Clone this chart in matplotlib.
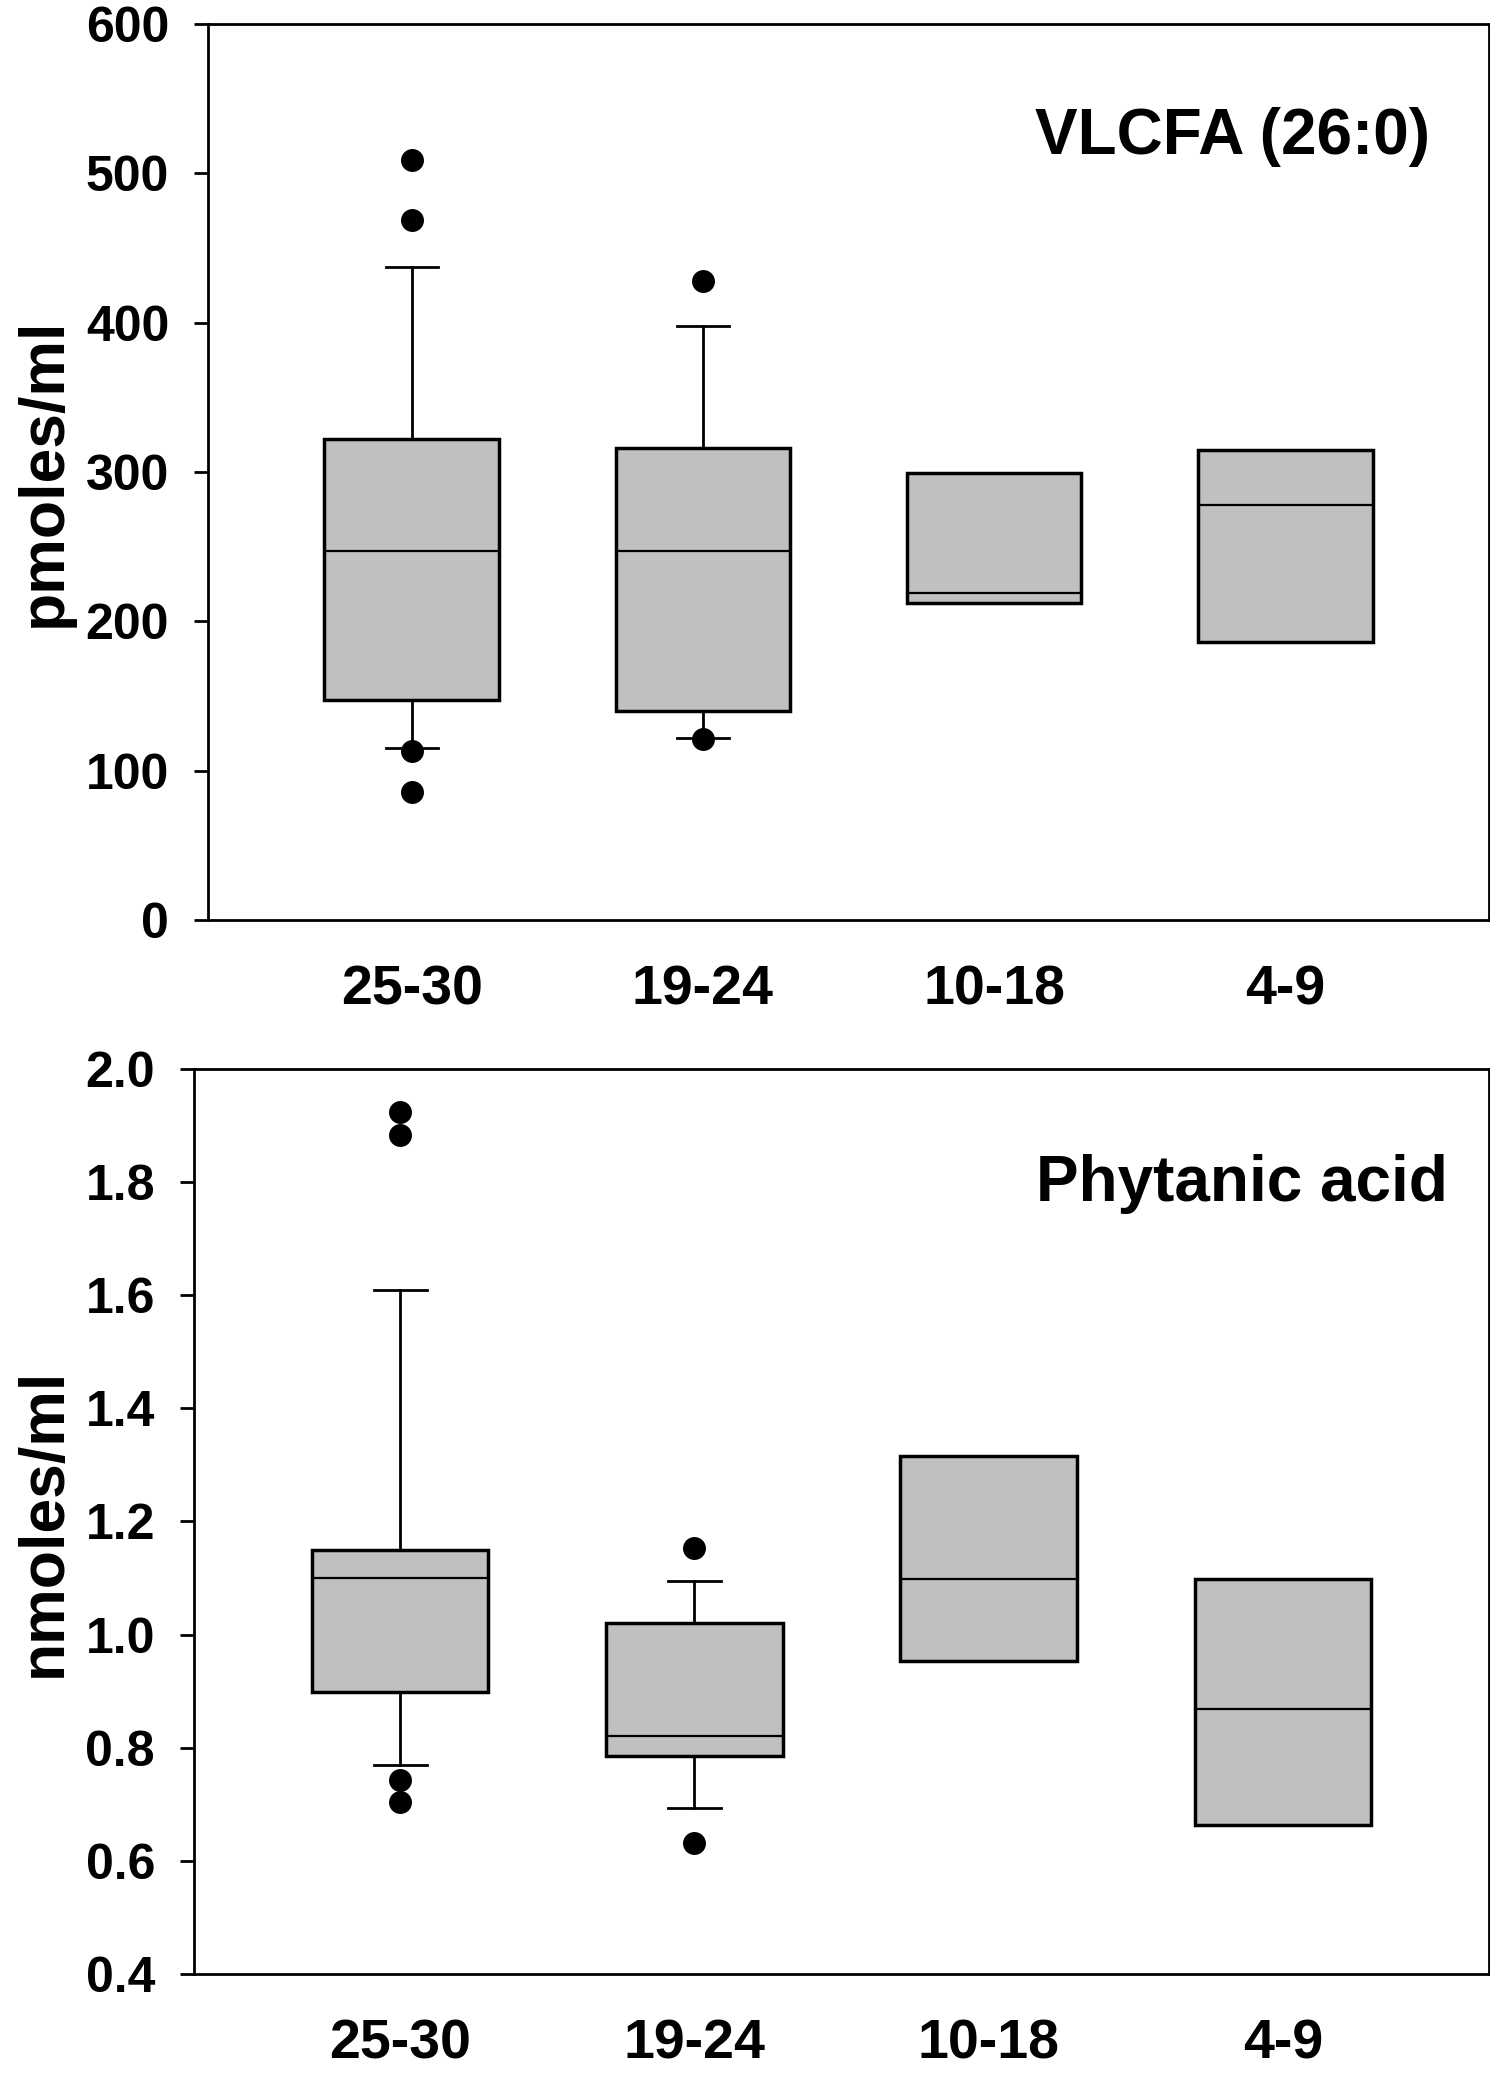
import matplotlib
matplotlib.use("Agg")
import matplotlib.pyplot as plt
from matplotlib.ticker import FormatStrFormatter

plt.rcParams['font.family'] = ['Liberation Sans', 'DejaVu Sans']
plt.rcParams['font.weight'] = 'bold'

groups = ["25-30", "19-24", "10-18", "4-9"]

# VLCFA (26:0), pmoles/ml
vl_q1 = [147, 140, 212, 186]
vl_med = [247, 247, 219, 278]
vl_q3 = [322, 316, 299, 315]
vl_lo = [115, 122, None, None]
vl_hi = [437, 398, None, None]
vl_out = [[509, 469, 113, 86], [428, 121], [], []]

# Phytanic acid, nmoles/ml
ph_q1 = [0.899, 0.785, 0.953, 0.663]
ph_med = [1.100, 0.820, 1.099, 0.869]
ph_q3 = [1.150, 1.020, 1.316, 1.099]
ph_lo = [0.769, 0.694, None, None]
ph_hi = [1.610, 1.094, None, None]
ph_out = [[1.923, 1.884, 0.743, 0.704], [1.153, 0.632], [], []]


def draw_boxes(ax, q1, med, q3, lo, hi, out):
    stats = []
    for i in range(len(groups)):
        stats.append(dict(q1=q1[i], med=med[i], q3=q3[i],
                          whislo=lo[i] if lo[i] is not None else q1[i],
                          whishi=hi[i] if hi[i] is not None else q3[i],
                          fliers=out[i], label=groups[i]))
    res = ax.bxp(stats, positions=[1, 2, 3, 4], widths=0.6, capwidths=0.18,
                 patch_artist=True,
                 boxprops=dict(facecolor='#c0c0c0', edgecolor='black', linewidth=2.5),
                 medianprops=dict(color='black', linewidth=1.6),
                 whiskerprops=dict(color='black', linewidth=2),
                 capprops=dict(color='black', linewidth=2),
                 flierprops=dict(marker='o', markerfacecolor='black',
                                 markeredgecolor='black', markersize=15.5))
    # groups without whiskers
    for i in range(len(groups)):
        if lo[i] is None:
            for k in (2 * i, 2 * i + 1):
                res['whiskers'][k].set_visible(False)
                res['caps'][k].set_visible(False)


def style_axis(ax):
    for s in ax.spines.values():
        s.set_linewidth(2)
    ax.set_xlim(0.3, 4.7)
    ax.tick_params(axis='y', direction='out', length=10, width=2,
                   labelsize=36, pad=18)
    ax.tick_params(axis='x', length=0, labelsize=40, pad=32)
    for lab in ax.get_xticklabels() + ax.get_yticklabels():
        lab.set_fontweight('bold')


fig = plt.figure(figsize=(14.9, 20.8), dpi=100)

ax1 = fig.add_axes([0.1396, 0.5577, 0.8597, 0.4308])
draw_boxes(ax1, vl_q1, vl_med, vl_q3, vl_lo, vl_hi, vl_out)
ax1.set_ylim(0, 600)
ax1.set_yticks(range(0, 601, 100))
style_axis(ax1)
ax1.text(0.954, 0.855, "VLCFA (26:0)", transform=ax1.transAxes,
         ha='right', va='baseline', fontsize=46, fontweight='bold')
fig.text(44 / 1490, 1 - 472 / 2080, "pmoles/ml", rotation=90,
         ha='center', va='center', fontsize=45, fontweight='bold')

ax2 = fig.add_axes([0.1302, 0.0510, 0.8691, 0.4351])
draw_boxes(ax2, ph_q1, ph_med, ph_q3, ph_lo, ph_hi, ph_out)
ax2.set_ylim(0.4, 2.0)
ax2.set_yticks([0.4, 0.6, 0.8, 1.0, 1.2, 1.4, 1.6, 1.8, 2.0])
ax2.yaxis.set_major_formatter(FormatStrFormatter('%.1f'))
style_axis(ax2)
ax2.text(0.968, 0.854, "Phytanic acid", transform=ax2.transAxes,
         ha='right', va='baseline', fontsize=46, fontweight='bold')
fig.text(44 / 1490, 1 - 1522 / 2080, "nmoles/ml", rotation=90,
         ha='center', va='center', fontsize=45, fontweight='bold')

fig.savefig("out.png", dpi=100)
